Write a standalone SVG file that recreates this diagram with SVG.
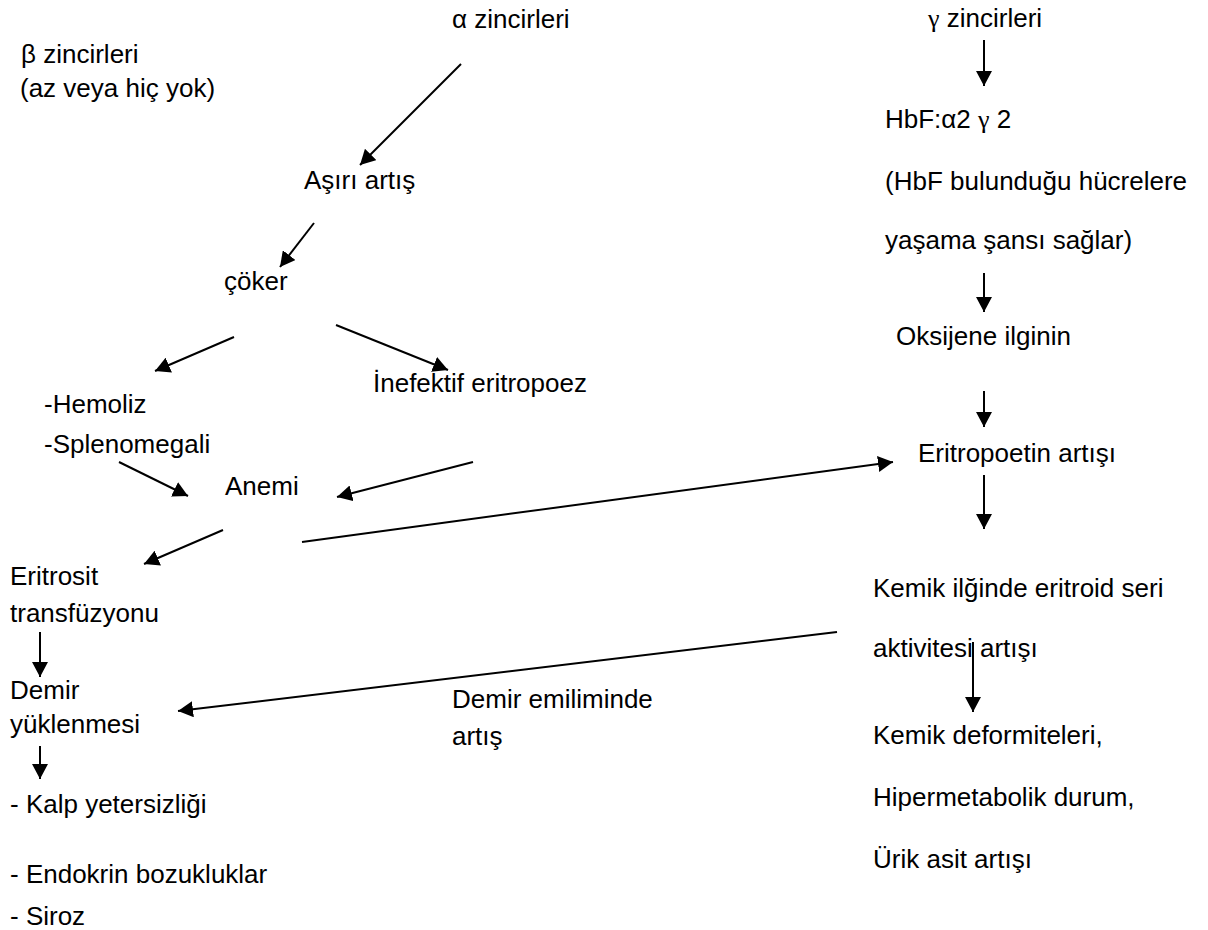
<svg xmlns="http://www.w3.org/2000/svg" width="1208" height="930" viewBox="0 0 1208 930">
<style>
  text { font-family: "Liberation Sans", Arial, sans-serif; font-size: 26px; fill: #000; }
  .g { font-family: "Liberation Serif", "Times New Roman", serif; }
  .c { stroke: #000; stroke-width: 2; fill: none; marker-end: url(#ah); }
</style>
<defs>
  <marker id="ah" viewBox="0 0 15 16" refX="15" refY="8" markerWidth="15" markerHeight="16" markerUnits="userSpaceOnUse" orient="auto">
    <path d="M0,0 L15,8 L0,16 z" fill="#000"/>
  </marker>
</defs>
<rect width="1208" height="930" fill="#fff"/>

<g id="connectors">
  <line class="c" x1="461" y1="64" x2="360" y2="165"/>
  <line class="c" x1="314" y1="223" x2="280" y2="267"/>
  <line class="c" x1="234" y1="337" x2="155" y2="371"/>
  <line class="c" x1="336" y1="325" x2="448" y2="370"/>
  <line class="c" x1="119" y1="462" x2="188" y2="496"/>
  <line class="c" x1="473" y1="462" x2="337" y2="497"/>
  <line class="c" x1="223" y1="530" x2="144" y2="564"/>
  <line class="c" x1="302" y1="542" x2="893" y2="462"/>
  <line class="c" x1="40" y1="632" x2="40" y2="677"/>
  <line class="c" x1="40" y1="746" x2="40" y2="779"/>
  <line class="c" x1="984" y1="40" x2="984" y2="86"/>
  <line class="c" x1="984" y1="273" x2="984" y2="312"/>
  <line class="c" x1="984" y1="391" x2="984" y2="427"/>
  <line class="c" x1="984" y1="475" x2="984" y2="529"/>
  <line class="c" x1="837" y1="632" x2="178" y2="711"/>
  <line class="c" x1="973" y1="642" x2="973" y2="712"/>
</g>

<g id="n-alpha"><text x="452" y="28">α zincirleri</text></g>
<g id="n-beta"><text x="21" y="63">β zincirleri</text><text x="20" y="97">(az veya hiç yok)</text></g>
<g id="n-asiri"><text x="304" y="189">Aşırı artış</text></g>
<g id="n-coker"><text x="224" y="290">çöker</text></g>
<g id="n-hemoliz"><text x="44" y="413">-Hemoliz</text><text x="44" y="453">-Splenomegali</text></g>
<g id="n-inefektif"><text x="373" y="392">İnefektif eritropoez</text></g>
<g id="n-anemi"><text x="225" y="495">Anemi</text></g>
<g id="n-eritrosit"><text x="10" y="585">Eritrosit</text><text x="10" y="622">transfüzyonu</text></g>
<g id="n-demir"><text x="10" y="699">Demir</text><text x="10" y="733">yüklenmesi</text></g>
<g id="n-sonuc"><text x="10" y="813">- Kalp yetersizliği</text><text x="10" y="883">- Endokrin bozukluklar</text><text x="10" y="925">- Siroz</text></g>
<g id="n-emilim"><text x="452" y="708">Demir emiliminde</text><text x="452" y="745">artış</text></g>
<g id="n-gamma"><text x="928" y="27"><tspan class="g">γ</tspan> zincirleri</text></g>
<g id="n-hbf"><text x="885" y="128">HbF:α2 <tspan class="g">γ</tspan> 2</text><text x="885" y="190">(HbF bulunduğu hücrelere</text><text x="885" y="249">yaşama şansı sağlar)</text></g>
<g id="n-oksijen"><text x="896" y="345">Oksijene ilginin</text></g>
<g id="n-epo"><text x="918" y="462">Eritropoetin artışı</text></g>
<g id="n-kemik"><text x="873" y="597">Kemik ilğinde eritroid seri</text><text x="873" y="657">aktivitesi artışı</text></g>
<g id="n-deform"><text x="873" y="744">Kemik deformiteleri,</text><text x="873" y="806">Hipermetabolik durum,</text><text x="873" y="868">Ürik asit artışı</text></g>
</svg>
